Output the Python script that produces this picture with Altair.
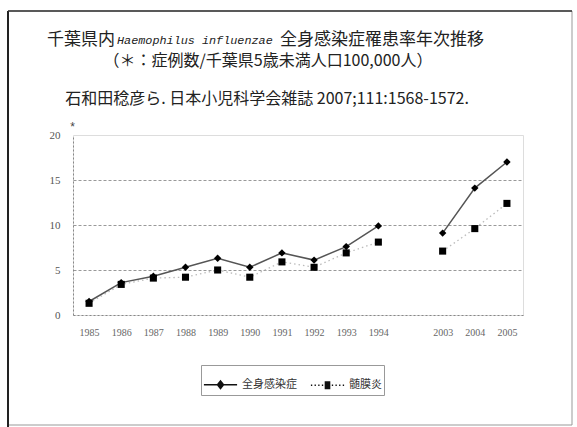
import altair as alt
import pandas as pd

# ---- data -----------------------------------------------------------------
years = ["1985", "1986", "1987", "1988", "1989", "1990", "1991", "1992",
         "1993", "1994", "2003", "2004", "2005"]
period = [1, 1, 1, 1, 1, 1, 1, 1, 1, 1, 2, 2, 2]
systemic = [1.5, 3.6, 4.3, 5.3, 6.3, 5.3, 6.9, 6.1, 7.6, 9.9, 9.1, 14.1, 17.0]
meningitis = [1.3, 3.4, 4.1, 4.2, 5.0, 4.2, 5.9, 5.3, 6.9, 8.1, 7.1, 9.6, 12.4]
series_names = ["全身感染症", "髄膜炎"]

# x slots: a blank slot separates the two survey periods
x_domain = years[:10] + [" "] + years[10:]

title_head = "千葉県内"
title_species = "Haemophilus influenzae"
title_tail = "全身感染症罹患率年次推移"
title_unit = "（＊：症例数/千葉県5歳未満人口100,000人）"
title_source = "石和田稔彦ら. 日本小児科学会雑誌 2007;111:1568-1572."
y_unit = "*"

rows = []
for name, vals in zip(series_names, [systemic, meningitis]):
    for yr, p, v in zip(years, period, vals):
        rows.append({"year": yr, "value": v, "series": name, "period": p})
df = pd.DataFrame(rows)

W, H = 450, 180
CJK = "Noto Sans CJK JP"

x_enc = alt.X("year:O", scale=alt.Scale(type="point", domain=x_domain, padding=0.5),
              axis=alt.Axis(title=None, labelAngle=0, ticks=False, domainColor="#888",
                            domainDash=[2, 2], labelFont="Liberation Sans Narrow",
                            labelFontSize=10, labelColor="#666", labelPadding=12))
y_enc = alt.Y("value:Q", scale=alt.Scale(domain=[0, 20], nice=False),
              axis=alt.Axis(title=y_unit, titleAngle=0, titleX=-1, titleY=-2,
                            titleAlign="center", titleFontSize=12, titleFontWeight="normal",
                            titleColor="#444", values=[0, 5, 10, 15, 20], ticks=False,
                            domainColor="#888", domainDash=[2, 2], labelColor="#555",
                            labelFontSize=11, labelFont="Liberation Serif", labelPadding=13,
                            grid=True, gridColor="#999", gridDash=[3, 2],
                            gridOpacity={"condition": {"test": "datum.value <= 0 || datum.value >= 20",
                                                       "value": 0}, "value": 1}))

# legend glyphs drawn as filled shapes: a solid bar through a diamond,
# and a row of dots around a square
solid_bar = "M-1,-0.04H1V0.04H-1Z"
diamond = "M0,-0.3L0.24,0L0,0.3L-0.24,0Z"
square = "M-0.17,-0.24H0.17V0.24H-0.17Z"
dots = "".join(f"M{x:.2f},-0.04h0.08v0.08h-0.08Z" for x in (-1.0, -0.78, -0.56, -0.34, 0.26, 0.48, 0.7, 0.92))
legend_glyphs = [solid_bar + diamond, dots + square]

GLYPH = 1100
legend = alt.Legend(
    title=None, orient="none", legendX=128, legendY=230, direction="horizontal",
    labelFont=CJK, labelFontSize=11, labelColor="#333", columnPadding=10,
    symbolSize=GLYPH, symbolOpacity=1, symbolFillColor="black",
    padding=2, strokeColor="#999",
)

glyph_scale = alt.Scale(domain=series_names, range=legend_glyphs)

base = alt.Chart(df).encode(x=x_enc, y=y_enc)
is_main = alt.datum.series == series_names[0]
is_men = alt.datum.series == series_names[1]

men_line = base.transform_filter(is_men).mark_line(
    strokeWidth=1.3, color="#bbb", strokeDash=[1.5, 3]).encode(detail="period:N")
main_line = base.transform_filter(is_main).mark_line(
    strokeWidth=1.5, color="#555").encode(detail="period:N")
squares = base.transform_filter(is_men).mark_point(
    filled=True, size=50, opacity=1, color="black", shape="square")
diamonds = base.transform_filter(is_main).mark_point(
    filled=True, size=55, opacity=1, color="black", shape="diamond")

# invisible layer that only carries the legend
key = base.mark_point(filled=True, opacity=0, size=GLYPH, color="#111").encode(
    shape=alt.Shape("series:N", scale=glyph_scale, legend=legend),
)


def label(text, x, y, align="center", size=16, style="normal", font=CJK, weight="normal"):
    return alt.Chart(pd.DataFrame({"t": [text]})).mark_text(
        align=align, baseline="middle", fontSize=size, fontStyle=style,
        font=font, fontWeight=weight, color="#222"
    ).encode(text="t:N", x=alt.value(x), y=alt.value(y))


header = (
    label(title_head, 42, -95, align="right", size=17)
    + label(title_species, 44, -95, align="left", size=11.8, style="italic", font="Liberation Mono")
    + label(title_tail, 207, -95, align="left", size=17)
    + label(title_unit, 195, -74, size=16)
    + label(title_source, 194, -36, size=16)
)

one = pd.DataFrame({"k": [0]})
frame = alt.Chart(one).mark_rect(fill=None, stroke="#999", strokeWidth=1).encode(
    x=alt.value(-65), x2=alt.value(499), y=alt.value(-124), y2=alt.value(290))
left_edge = alt.Chart(one).mark_rule(color="#222", strokeWidth=2).encode(
    x=alt.value(-65), y=alt.value(-124), y2=alt.value(292))
top_edge = alt.Chart(one).mark_rule(color="#333", strokeWidth=1.5).encode(
    x=alt.value(-65), x2=alt.value(499), y=alt.value(-124))

chart = alt.layer(frame, left_edge, top_edge, header, men_line, main_line,
                  squares, diamonds, key).properties(
    width=W, height=H,
    autosize=alt.AutoSizeParams(type="none"),
    padding={"left": 73, "top": 135, "right": 54, "bottom": 112},
).configure_view(stroke=None).configure(background="white")

chart.save("out.html", embed_options={"renderer": "svg", "actions": False})
